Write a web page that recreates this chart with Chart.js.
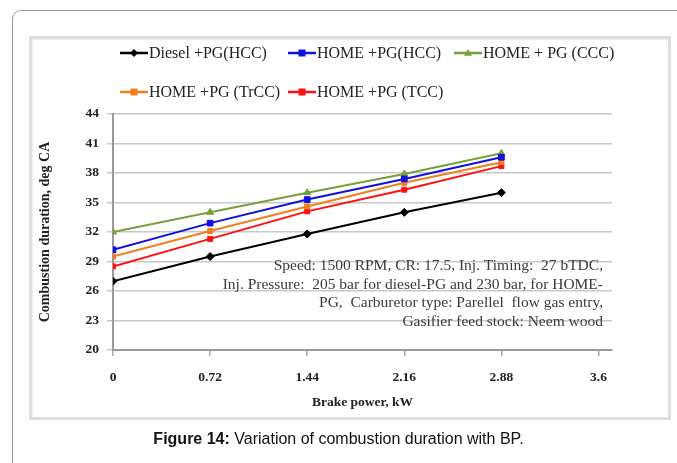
<!DOCTYPE html>
<html>
<head>
<meta charset="utf-8">
<script src="https://cdn.jsdelivr.net/npm/chart.js@4.4.1/dist/chart.umd.min.js"></script>
<style>
  html, body { margin: 0; padding: 0; background: #fff; }
  #wrap { position: relative; width: 677px; height: 463px; overflow: hidden; }
  #outer { position: absolute; left: 12px; top: 10px; width: 700px; height: 500px;
           border-left: 1.5px solid #9a9a9a; border-top: 1.5px solid #9a9a9a; border-top-left-radius: 9px; }
  #box { position: absolute; left: 29px; top: 36px; width: 636px; height: 378px;
         border: 3px solid #dedede; box-shadow: inset 1px 1px 1px #eee; }
  #cv { position: absolute; left: 0; top: 0; }
  #caption { position: absolute; left: 0; width: 677px; top: 430px; text-align: center;
             font-family: "Liberation Sans", Arial, sans-serif; font-size: 16px; color: #111; }
</style>
</head>
<body>
<div id="wrap">
  <div id="outer"></div>
  <div id="box"></div>
  <canvas id="cv" width="677" height="463"></canvas>
  <div id="caption"><b>Figure 14:</b> Variation of combustion duration with BP.</div>
</div>
<script>
// brake power (kW)
const power = [0, 0.72, 1.44, 2.16, 2.88];
const xTicks = [0, 0.72, 1.44, 2.16, 2.88, 3.6];
const yTicks = [20, 23, 26, 29, 32, 35, 38, 41, 44];

// combustion duration (deg CA)
const dieselHCC = [27.0, 29.5, 31.8, 34.0, 36.0];
const homeHCC   = [30.2, 32.9, 35.3, 37.4, 39.6];
const homeCCC   = [32.0, 34.0, 36.0, 37.9, 40.0];
const homeTrCC  = [29.5, 32.1, 34.6, 37.0, 39.1];
const homeTCC   = [28.5, 31.3, 34.1, 36.3, 38.7];

const seriesLabels = ['Diesel +PG(HCC)', 'HOME +PG(HCC)', 'HOME + PG (CCC)', 'HOME +PG (TrCC)', 'HOME +PG (TCC)'];

const noteLines = [
  'Speed: 1500 RPM, CR: 17.5, Inj. Timing:  27 bTDC,',
  'Inj. Pressure:  205 bar for diesel-PG and 230 bar, for HOME-',
  'PG,  Carburetor type: Parellel  flow gas entry,',
  'Gasifier feed stock: Neem wood'
];

const serif = '"Liberation Serif", "Times New Roman", serif';

const toPts = (ys) => power.map((x, i) => ({ x: x, y: ys[i] }));

const mk = (label, ys, color, style, r) => ({
  label: label,
  data: toPts(ys),
  borderColor: color,
  backgroundColor: color,
  borderWidth: 2,
  pointStyle: style,
  pointRadius: r,
  pointHoverRadius: r,
  pointBorderWidth: 1,
  tension: 0
});

// legend laid out in fixed columns like the original
const gridLegend = {
  id: 'gridLegend',
  afterDraw(chart) {
    const ctx = chart.ctx;
    const cols = [120, 288, 454];
    const rows = [53, 92];
    ctx.save();
    ctx.font = '16px ' + serif;
    ctx.textBaseline = 'middle';
    chart.data.datasets.forEach((ds, i) => {
      const x = cols[i % 3];
      const y = rows[Math.floor(i / 3)];
      ctx.strokeStyle = ds.borderColor;
      ctx.fillStyle = ds.borderColor;
      ctx.lineWidth = 2.5;
      ctx.beginPath();
      ctx.moveTo(x, y);
      ctx.lineTo(x + 28, y);
      ctx.stroke();
      const cx = x + 14, r = 4;
      ctx.beginPath();
      if (ds.pointStyle === 'rectRot') {
        ctx.moveTo(cx, y - r); ctx.lineTo(cx + r, y); ctx.lineTo(cx, y + r); ctx.lineTo(cx - r, y);
      } else if (ds.pointStyle === 'triangle') {
        ctx.moveTo(cx, y - r); ctx.lineTo(cx + r, y + r * 0.7); ctx.lineTo(cx - r, y + r * 0.7);
      } else {
        ctx.rect(cx - 3.5, y - 3.5, 7, 7);
      }
      ctx.closePath();
      ctx.fill();
      ctx.fillStyle = '#222';
      ctx.fillText(ds.label, x + 29, y + 1);
    });
    ctx.restore();
  }
};

// text block inside the plot
const noteText = {
  id: 'noteText',
  afterDatasetsDraw(chart) {
    const ctx = chart.ctx;
    ctx.save();
    ctx.font = '15.5px ' + serif;
    ctx.fillStyle = '#3a3a3a';
    ctx.textAlign = 'right';
    ctx.textBaseline = 'middle';
    noteLines.forEach((t, i) => ctx.fillText(t, 603, 266 + i * 18.7));
    ctx.restore();
  }
};

new Chart(document.getElementById('cv').getContext('2d'), {
  type: 'line',
  data: {
    datasets: [
      mk(seriesLabels[0], dieselHCC, '#000000', 'rectRot', 4),
      mk(seriesLabels[1], homeHCC, '#1010e0', 'rect', 4),
      mk(seriesLabels[2], homeCCC, '#77a03c', 'triangle', 4),
      mk(seriesLabels[3], homeTrCC, '#f07f1e', 'rect', 3.5),
      mk(seriesLabels[4], homeTCC, '#ff1010', 'rect', 3.5)
    ]
  },
  options: {
    responsive: false,
    animation: false,
    events: [],
    layout: { padding: { left: 33, top: 114, right: 65, bottom: 48 } },
    plugins: {
      legend: { display: false },
      tooltip: { enabled: false }
    },
    scales: {
      x: {
        type: 'linear',
        min: 0,
        max: 3.7,
        afterBuildTicks: (s) => { s.ticks = xTicks.map(v => ({ value: v })); },
        afterFit: (s) => { s.height = 65; },
        grid: { drawOnChartArea: false, tickLength: 6, color: '#aaaaaa', lineWidth: 1.5 },
        border: { color: '#9a9a9a', width: 2 },
        ticks: {
          padding: 13,
          color: '#222',
          font: { family: serif, size: 13.5, weight: 'bold' },
          callback: (v) => String(v)
        },
        title: {
          display: true,
          text: 'Brake power, kW',
          color: '#222',
          padding: 4,
          font: { family: serif, size: 13.5, weight: 'bold' }
        }
      },
      y: {
        min: 20,
        max: 44,
        afterBuildTicks: (s) => { s.ticks = yTicks.map(v => ({ value: v })); },
        afterFit: (s) => { s.width = 80; },
        grid: { color: '#c8c8c8', lineWidth: 1.5, tickLength: 6 },
        border: { color: '#9a9a9a', width: 2 },
        ticks: {
          padding: 8,
          color: '#222',
          font: { family: serif, size: 13.5, weight: 'bold' }
        },
        title: {
          display: true,
          text: 'Combustion duration, deg CA',
          color: '#222',
          padding: 4,
          font: { family: serif, size: 14, weight: 'bold' }
        }
      }
    }
  },
  plugins: [gridLegend, noteText]
});
</script>
</body>
</html>
